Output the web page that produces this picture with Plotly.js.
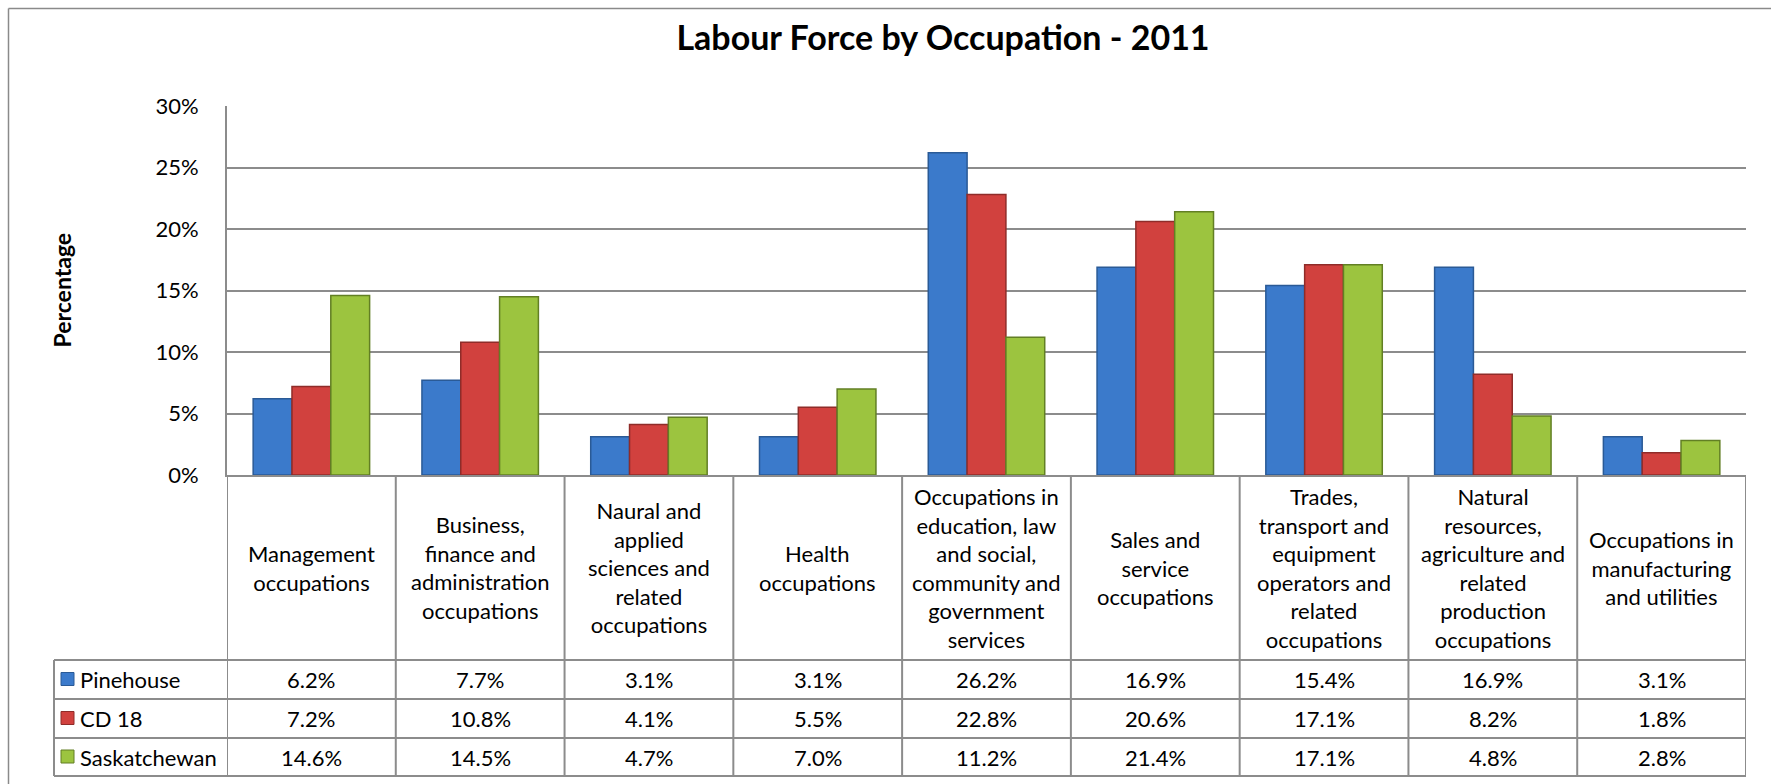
<!DOCTYPE html>
<html>
<head>
<meta charset="utf-8">
<script src="https://cdn.plot.ly/plotly-3.0.1.min.js"></script>
<style>
  html, body { margin: 0; padding: 0; background: #ffffff; }
  #chart { width: 1771px; height: 784px; }
</style>
</head>
<body>
<div id="chart"></div>
<script>
// ---- Data ----
const categories = [
  "Management occupations",
  "Business, finance and administration occupations",
  "Naural and applied sciences and related occupations",
  "Health occupations",
  "Occupations in education, law and social, community and government services",
  "Sales and service occupations",
  "Trades, transport and equipment operators and related occupations",
  "Natural resources, agriculture and related production occupations",
  "Occupations in manufacturing and utilities"
];
const categoryLabels = [
  "Management<br>occupations",
  "Business,<br>finance and<br>administration<br>occupations",
  "Naural and<br>applied<br>sciences and<br>related<br>occupations",
  "Health<br>occupations",
  "Occupations in<br>education, law<br>and social,<br>community and<br>government<br>services",
  "Sales and<br>service<br>occupations",
  "Trades,<br>transport and<br>equipment<br>operators and<br>related<br>occupations",
  "Natural<br>resources,<br>agriculture and<br>related<br>production<br>occupations",
  "Occupations in<br>manufacturing<br>and utilities"
];
const seriesNames = ["Pinehouse", "CD 18", "Saskatchewan"];
const pinehouse    = [6.2, 7.7, 3.1, 3.1, 26.2, 16.9, 15.4, 16.9, 3.1];
const cd18         = [7.2, 10.8, 4.1, 5.5, 22.8, 20.6, 17.1, 8.2, 1.8];
const saskatchewan = [14.6, 14.5, 4.7, 7.0, 11.2, 21.4, 17.1, 4.8, 2.8];
const yTickValues  = [0, 5, 10, 15, 20, 25, 30];
const yTickLabels  = ["0%", "5%", "10%", "15%", "20%", "25%", "30%"];
const titleText = "Labour Force by Occupation - 2011";
const yTitleText = "Percentage";

// ---- Styles ----
const seriesValues = [pinehouse, cd18, saskatchewan];
const fillColors = ["#3b7acb", "#d1413e", "#9cc43f"];
const edgeColors = ["#2a5a96", "#8f2c29", "#627f24"];
const gridColor = "#8c8c8c";
const FONT = "Lato, 'Open Sans', sans-serif";

// ---- Geometry (pixels) ----
const W = 1771, H = 784;
const M = { l: 54, r: 25, t: 106, b: 8 };
const plotW = W - M.l - M.r;   // 1692
const plotH = H - M.t - M.b;   // 670
const axisLeftPx = 227, zeroPx = 475;
const rowLines = [660, 699, 738, 776];
const px2x = p => (p - M.l) / plotW;
const py2y = p => (H - M.b - p) / plotH;

const traces = seriesValues.map((vals, s) => ({
  type: "bar",
  name: seriesNames[s],
  x: categories,
  y: vals,
  marker: { color: fillColors[s], line: { color: edgeColors[s], width: 1.5 } },
  hoverinfo: "x+y+name",
  showlegend: false
}));

const shapes = [];
const annotations = [];

// outer frame (left + top)
shapes.push({ type: "line", xref: "paper", yref: "paper",
  x0: px2x(8.5), x1: px2x(8.5), y0: py2y(8.5), y1: py2y(800),
  line: { color: "#8a8a8a", width: 1.5 } });
shapes.push({ type: "line", xref: "paper", yref: "paper",
  x0: px2x(8.5), x1: px2x(1800), y0: py2y(8.5), y1: py2y(8.5),
  line: { color: "#8a8a8a", width: 1.5 } });

// table horizontal lines
rowLines.forEach(p => {
  shapes.push({ type: "line", xref: "paper", yref: "paper",
    x0: px2x(54), x1: 1, y0: py2y(p), y1: py2y(p),
    line: { color: gridColor, width: 2 } });
});
// legend column left edge
shapes.push({ type: "line", xref: "paper", yref: "paper",
  x0: px2x(54), x1: px2x(54), y0: py2y(rowLines[0]), y1: py2y(rowLines[3]),
  line: { color: gridColor, width: 2 } });
// category column boundaries
for (let i = 0; i <= categories.length; i++) {
  shapes.push({ type: "line", xref: "x", yref: "paper",
    x0: i - 0.5, x1: i - 0.5, y0: py2y(zeroPx), y1: py2y(rowLines[3]),
    line: { color: gridColor, width: 2 } });
}

// header labels
categoryLabels.forEach((lab, i) => {
  annotations.push({ xref: "x", yref: "paper", x: i, y: py2y((zeroPx + rowLines[0]) / 2),
    xanchor: "center", yanchor: "middle", showarrow: false, align: "center",
    text: lab, font: { family: FONT, size: 22, color: "#000" } });
});

// data rows
seriesValues.forEach((vals, s) => {
  const yc = py2y((rowLines[s] + rowLines[s + 1]) / 2);
  vals.forEach((v, i) => {
    annotations.push({ xref: "x", yref: "paper", x: i, y: yc,
      xanchor: "center", yanchor: "middle", showarrow: false,
      text: v.toFixed(1) + "%", font: { family: FONT, size: 22, color: "#000" } });
  });
  // legend key
  const cy = (rowLines[s] + rowLines[s + 1]) / 2;
  shapes.push({ type: "rect", xref: "paper", yref: "paper",
    x0: px2x(61), x1: px2x(74), y0: py2y(cy - 7), y1: py2y(cy + 6),
    fillcolor: fillColors[s], line: { color: edgeColors[s], width: 1 } });
  annotations.push({ xref: "paper", yref: "paper", x: px2x(78), y: yc,
    xanchor: "left", yanchor: "middle", showarrow: false,
    text: seriesNames[s], font: { family: FONT, size: 22, color: "#000" } });
});

// y-axis title
annotations.push({ xref: "paper", yref: "paper", x: px2x(61), y: py2y((106 + zeroPx) / 2),
  xanchor: "center", yanchor: "middle", showarrow: false, textangle: -90,
  text: "<b>" + yTitleText + "</b>", font: { family: FONT, size: 23, color: "#000" } });

const layout = {
  width: W, height: H,
  margin: M,
  paper_bgcolor: "#ffffff",
  plot_bgcolor: "#ffffff",
  font: { family: FONT, size: 22, color: "#000" },
  title: {
    text: "<b>" + titleText + "</b>",
    x: 943 / W, xanchor: "center", xref: "container",
    y: 1 - 38 / H, yanchor: "middle", yref: "container",
    font: { family: FONT, size: 34, color: "#000" }
  },
  barmode: "group",
  bargap: 0.31,
  bargroupgap: 0,
  xaxis: {
    type: "category",
    domain: [px2x(axisLeftPx), 1],
    range: [-0.5, categories.length - 0.5],
    showticklabels: false,
    ticks: "",
    showgrid: false,
    showline: true, linecolor: gridColor, linewidth: 2,
    zeroline: false,
    fixedrange: true
  },
  yaxis: {
    domain: [py2y(zeroPx), 1],
    range: [0, 30],
    tickvals: yTickValues,
    ticktext: yTickLabels,
    ticks: "",
    ticklabelstandoff: 22,
    tickfont: { family: FONT, size: 22, color: "#000" },
    showgrid: true, gridcolor: gridColor, gridwidth: 2,
    showline: true, linecolor: gridColor, linewidth: 2,
    zeroline: false,
    fixedrange: true
  },
  shapes: shapes,
  annotations: annotations
};

Plotly.newPlot("chart", traces, layout, { displayModeBar: false, staticPlot: true });
</script>
</body>
</html>
